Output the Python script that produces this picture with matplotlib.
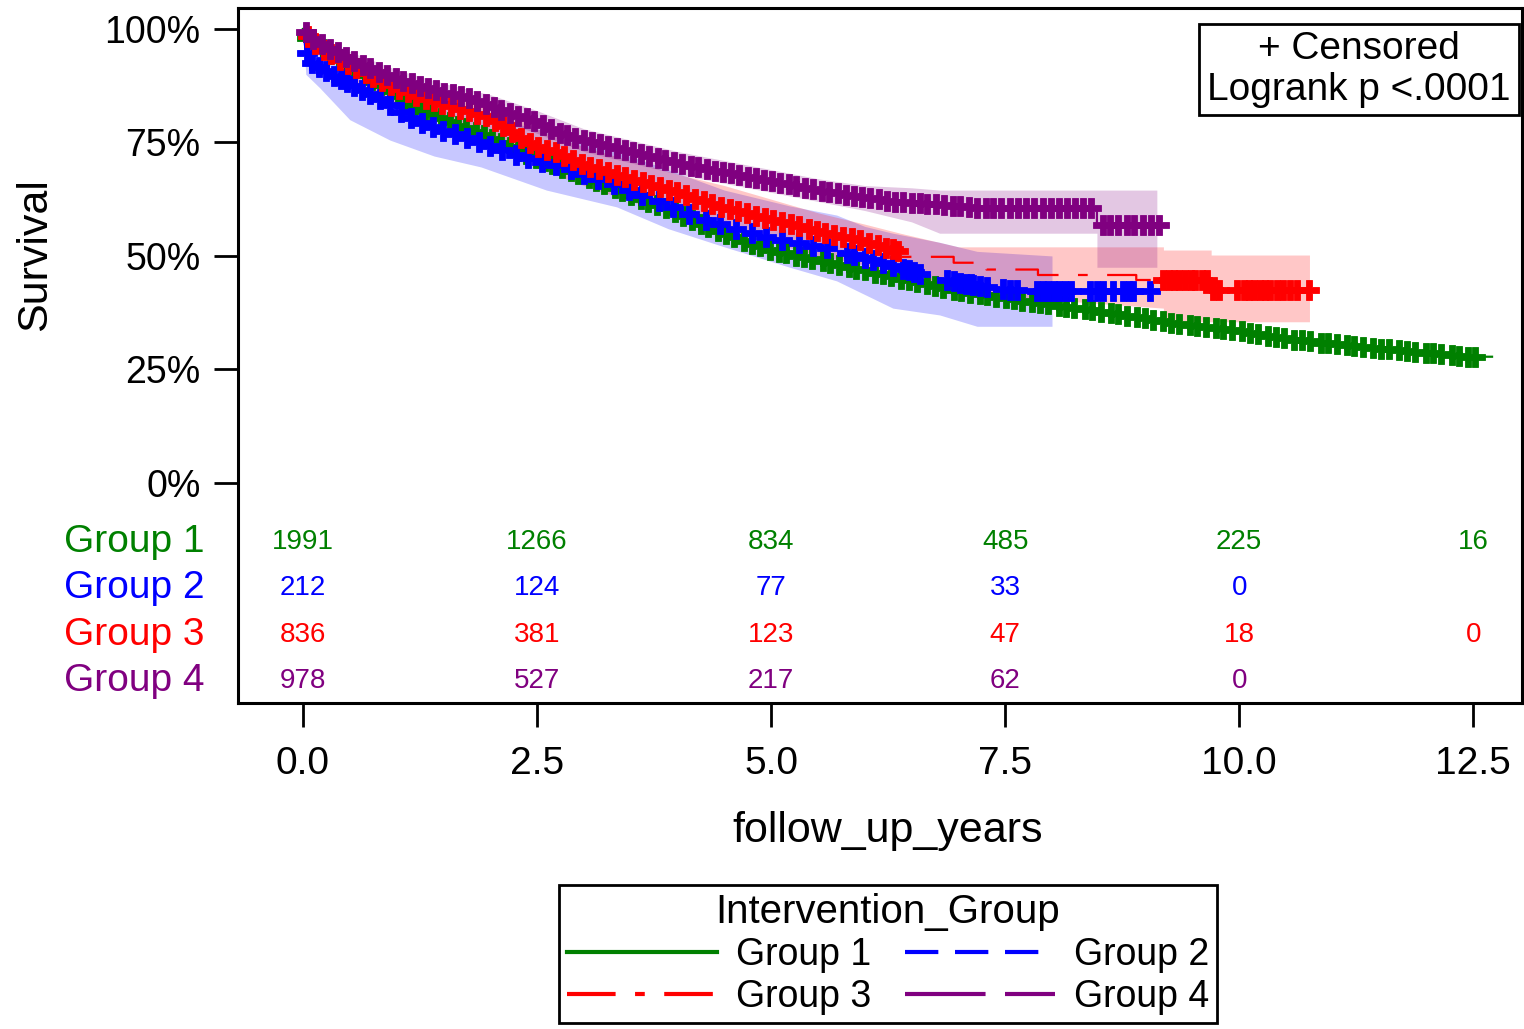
import numpy as np
import matplotlib
matplotlib.use("Agg")
import matplotlib.pyplot as plt
from matplotlib.lines import Line2D

plt.rcParams['font.family'] = ['Liberation Sans', 'DejaVu Sans']
plt.rcParams['lines.scale_dashes'] = False

# ---------------
# data
# ---------------
groups = ['Group 1', 'Group 2', 'Group 3', 'Group 4']
colors = ['#008000', '#0000ff', '#ff0000', '#800080']

# survival curves (years, %); repeated times mark the visible late drops
g1_t = [0, 0.05, 0.25, 0.5, 0.75, 1.0, 1.25, 1.5, 1.75, 2.0, 2.25, 2.5, 2.75, 3.0, 3.25, 3.5,
        3.75, 4.0, 4.25, 4.5, 4.75, 5.0, 5.5, 6.0, 6.5, 7.0, 7.5, 8.0, 8.5, 9.0, 9.5, 10.0,
        10.5, 11.0, 11.5, 12.0, 12.4, 12.7]
g1_s = [100, 97.5, 95, 92, 88.5, 85.5, 82.5, 80, 78, 76, 73.5, 71.5, 69.5, 67.5, 65.5, 63.5,
        61.5, 59.5, 57, 55, 53, 51.3, 49, 46.8, 44.5, 42.3, 40.7, 39.2, 37.8, 36.2, 34.6, 33.5,
        31.8, 30.6, 29.6, 28.7, 27.8, 27.8]

g2_t = [0, 0.03, 0.1, 0.3, 0.64, 1.0, 1.18, 1.5, 1.9, 2.3, 2.8, 3.3, 3.75, 4.2, 4.6, 5.0,
        5.7, 6.2, 6.6, 7.0, 7.4, 7.8, 9.16]
g2_s = [100, 95, 92.5, 90, 86.5, 82.5, 80, 77.5, 75, 72, 69.5, 66, 62.5, 58.5, 56, 54,
        51.3, 48.5, 46, 44.2, 42.8, 42.2, 42.2]

g3_t = [0, 0.1, 0.25, 0.5, 0.75, 1.0, 1.25, 1.5, 1.75, 2.0, 2.25, 2.5, 2.75, 3.0, 3.5, 4.0,
        4.35, 5.0, 5.6, 5.95, 6.2, 6.38, 6.38, 6.95, 6.95, 7.3, 7.3, 7.85, 7.85, 8.9, 8.9,
        9.7, 9.7, 10.83]
g3_s = [100, 97, 95, 92, 89.5, 87, 85, 83.5, 82, 80.5, 77, 74, 72.5, 70, 67, 64,
        61.5, 58, 55, 53.5, 52, 51, 49.8, 49.8, 48.5, 48.5, 47, 47, 45.8, 45.8, 44.7,
        44.7, 42.5, 42.5]

g4_t = [0, 0.1, 0.25, 0.5, 0.75, 1.0, 1.25, 1.5, 1.75, 2.0, 2.5, 2.75, 3.0, 3.5, 4.0, 4.35,
        5.0, 5.5, 5.95, 6.3, 6.7, 7.2, 8.48, 8.48, 9.23]
g4_s = [100, 98, 96, 93.5, 91, 89, 87.5, 86, 85, 83, 79.5, 77, 75.5, 73, 70.5, 69,
        66.5, 64.5, 63, 62, 61.5, 60.6, 60.6, 56.8, 56.8]

# confidence bands (years, lower %, upper %)
g2_band_t = [0, 0.03, 0.18, 0.5, 0.93, 1.4, 1.9, 2.6, 3.35, 3.9, 4.5, 5.2, 5.7, 6.0, 6.3,
             6.8, 7.2, 8.0]
g2_band_lo = [100, 90, 87, 80, 75.5, 72, 69.6, 64.5, 60.8, 56, 52, 47.5, 44.5, 41.5, 38.5,
              37, 34.5, 34.5]
g2_band_hi = [100, 99, 95, 92, 88, 84, 81, 77.5, 73, 69, 64.5, 61, 59, 56.5, 55,
              53, 51, 50]

g3_band_t = [0, 0.5, 1.0, 1.5, 2.0, 2.5, 3.0, 3.5, 4.0, 4.5, 5.0, 5.5, 6.0, 6.38, 7.0,
             7.85, 9.19, 9.19, 9.7, 9.7, 10.75]
g3_band_lo = [100, 89, 83, 79, 75, 69.5, 65.5, 62, 59, 55.5, 53, 50, 48, 44.5, 42.5,
              40.5, 38.5, 35.5, 35.5, 35.5, 35.5]
g3_band_hi = [100, 94.5, 90, 86.5, 83.5, 78, 74, 71, 68, 65.5, 62.5, 59.5, 57, 55, 52,
              52, 52, 51.3, 51.3, 50.2, 50.2]

g4_band_t = [0, 0.5, 1.0, 1.5, 2.0, 2.5, 3.0, 3.5, 4.0, 4.5, 5.0, 5.5, 6.0, 6.5, 6.8,
             8.48, 8.48, 9.12]
g4_band_lo = [100, 91, 86.5, 83.5, 80.5, 77, 73, 70.5, 68, 66, 64, 62, 60, 57.5, 55,
              55, 47.5, 47.5]
g4_band_hi = [100, 95, 91, 88, 85.5, 82, 78, 75.5, 73, 71, 69, 67, 65.5, 65, 64.5,
              64.5, 64.5, 64.5]

# censoring times (years)
g1_cens = np.array("""
0.04 0.12 0.21 0.29 0.38 0.47 0.55 0.66 0.74 0.83 0.93 1.02 1.11 1.19 1.30 1.38 1.47 1.57
1.66 1.74 1.85 1.93 2.02 2.12 2.21 2.30 2.38 2.49 2.58 2.66 2.77 2.86 2.94 3.05 3.13 3.22
3.33 3.41 3.50 3.61 3.69 3.78 3.88 3.97 4.06 4.15 4.25 4.33 4.43 4.52 4.60 4.71 4.80 4.88
4.99 5.08 5.16 5.27 5.35 5.44 5.55 5.63 5.72 5.83 5.91 6.00 6.11 6.19 6.28 6.39 6.47 6.56
6.67 6.75 6.84 6.95 7.03 7.12 7.23 7.31 7.40 7.51 7.59 7.68 7.79 7.87 7.96 8.07 8.15 8.24
8.35 8.43 8.52 8.63 8.71 8.80 8.91 8.99 9.08 9.19 9.27 9.36 9.47 9.55 9.64 9.75 9.83 9.92
10.03 10.11 10.20 10.31 10.39 10.48 10.59 10.67 10.76 10.87 10.95 11.04 11.15 11.23 11.32
11.43 11.51 11.60 11.71 11.79 11.88 11.99 12.07 12.16 12.27 12.35 12.44 12.52
""".split(), dtype=float)
g2_cens = np.array("""
0.04 0.10 0.17 0.25 0.33 0.41 0.47 0.55 0.63 0.72 0.82 0.93 1.05 1.15 1.27 1.39 1.50 1.62
1.75 1.88 2.00 2.13 2.27 2.40 2.55 2.70 2.86 3.00 3.15 3.32 3.48 3.62 3.80 3.95 4.12 4.30
4.45 4.62 4.80 4.95 5.12 5.30 5.45 5.60 5.81 5.88 6.00 6.09 6.20 6.30 6.41 6.47 6.53 6.59
6.88 6.95 7.02 7.08 7.13 7.16 7.23 7.31 7.48 7.55 7.63 7.84 7.90 7.96 8.02 8.08 8.14 8.20
8.41 8.48 8.55 8.65 8.76 8.82 8.87 9.05
""".split(), dtype=float)
g3_cens = np.array("""
0.05 0.13 0.22 0.30 0.40 0.48 0.57 0.67 0.75 0.84 0.94 1.03 1.12 1.21 1.31 1.40 1.49 1.58
1.68 1.77 1.86 1.95 2.05 2.14 2.23 2.33 2.42 2.51 2.61 2.70 2.79 2.88 2.98 3.07 3.16 3.26
3.35 3.44 3.54 3.63 3.72 3.81 3.91 4.00 4.09 4.19 4.28 4.37 4.47 4.56 4.65 4.74 4.84 4.93
5.02 5.12 5.21 5.30 5.40 5.49 5.58 5.67 5.77 5.86 5.95 6.05 6.14 6.23 6.30 6.36
9.19 9.25 9.30 9.36 9.42 9.48 9.53 9.60 9.66 9.72 9.78 9.98 10.05 10.10 10.16 10.22 10.28
10.33 10.40 10.47 10.54 10.62 10.74
""".split(), dtype=float)
g4_cens = np.array("""
0.03 0.11 0.20 0.29 0.37 0.46 0.55 0.64 0.72 0.81 0.90 0.99 1.07 1.16 1.25 1.34 1.42 1.51
1.60 1.69 1.77 1.86 1.95 2.04 2.12 2.21 2.30 2.39 2.47 2.56 2.65 2.74 2.82 2.91 3.00 3.09
3.17 3.26 3.35 3.44 3.52 3.61 3.70 3.79 3.87 3.96 4.05 4.14 4.22 4.31 4.40 4.49 4.57 4.66
4.75 4.84 4.92 5.01 5.10 5.19 5.27 5.36 5.45 5.54 5.62 5.71 5.80 5.89 5.97 6.06 6.15 6.24
6.32 6.41 6.50 6.59 6.67 6.76 6.85 6.94 7.02 7.11 7.20 7.29 7.37 7.46 7.55 7.64 7.72 7.81
7.90 7.99 8.07 8.16 8.25 8.33 8.42 8.55 8.62 8.70 8.80 8.88 8.97 9.06 9.14
""".split(), dtype=float)

# number at risk table
risk_times = [0, 2.5, 5.0, 7.5, 10.0, 12.5]
g1_risk = [1991, 1266, 834, 485, 225, 16]
g2_risk = [212, 124, 77, 33, 0, None]
g3_risk = [836, 381, 123, 47, 18, 0]
g4_risk = [978, 527, 217, 62, 0, None]

# ---------------
# figure
# ---------------
W, H = 1524, 1029
fig = plt.figure(figsize=(W / 100, H / 100), dpi=100)
ax = fig.add_axes([238 / W, 1 - 703 / H, (1522 - 238) / W, (703 - 8) / H])
ax.set_xlim(-0.694, 13.02)
ax.set_ylim(-48.46, 104.6)

curves = [(g1_t, g1_s), (g2_t, g2_s), (g3_t, g3_s), (g4_t, g4_s)]
cens = [g1_cens, g2_cens, g3_cens, g4_cens]
bands = [None,
         (g2_band_t, g2_band_lo, g2_band_hi),
         (g3_band_t, g3_band_lo, g3_band_hi),
         (g4_band_t, g4_band_lo, g4_band_hi)]
# dash patterns in points
styles = ['-', (0, (24, 12)), (0, (35, 14, 7, 14)), (0, (58, 14))]

for band, c in zip(bands, colors):
    if band is None:
        continue
    bt, lo, hi = band
    ax.fill_between(bt, lo, hi, color=c, alpha=0.22, lw=0, zorder=1)


def surv_at(t, s, x):
    # value of the curve at time x (last knot at or before x)
    t = np.asarray(t)
    s = np.asarray(s)
    out = []
    for v in x:
        j = np.searchsorted(t, v, side='right') - 1
        if j + 1 < len(t) and t[j + 1] > t[j]:
            f = (v - t[j]) / (t[j + 1] - t[j])
            out.append(s[j] + f * (s[j + 1] - s[j]))
        else:
            out.append(s[j])
    return np.array(out)


for i in [0, 2, 1, 3]:
    t, s = curves[i]
    ax.plot(t, s, color=colors[i], lw=1.6, ls=styles[i], zorder=3 + i)
    ax.plot(cens[i], surv_at(t, s, cens[i]), ls='none', marker='P', ms=15,
            mfc=colors[i], mec=colors[i], mew=0.6, zorder=3 + i)

# axes styling
ax.set_yticks([0, 25, 50, 75, 100])
ax.set_yticklabels(['0%', '25%', '50%', '75%', '100%'])
ax.set_xticks(risk_times)
ax.set_xticklabels(['%.1f' % v for v in risk_times])
ax.tick_params(axis='y', length=17, width=2, labelsize=27, pad=10)
ax.tick_params(axis='x', length=17, width=2, labelsize=28, pad=14)
for sp in ax.spines.values():
    sp.set_linewidth(2.2)

# at-risk table inside the frame
row_y = [-13.0, -23.1, -33.5, -43.6]
risks = [g1_risk, g2_risk, g3_risk, g4_risk]
for name, c, ry, vals in zip(groups, colors, row_y, risks):
    ax.text(-1.048, ry, name, color=c, fontsize=28, ha='right', va='center', clip_on=False)
    for tx, v in zip(risk_times, vals):
        if v is not None:
            ax.text(tx, ry, str(v), color=c, fontsize=20, ha='center', va='center')

fig.text(35 / W, 1 - 255 / H, 'Survival', rotation=90, fontsize=31, ha='center', va='center')
fig.text(888 / W, 1 - 831 / H, 'follow_up_years', fontsize=31, ha='center', va='center')

fig.text(1359 / W, 1 - 69.5 / H, '+ Censored\nLogrank p <.0001', fontsize=28,
         ha='center', va='center', multialignment='center', linespacing=1.15,
         bbox=dict(boxstyle='square,pad=0.2', fc='white', ec='black', lw=2), zorder=10)

handles = [Line2D([], [], color=c, lw=3, ls=st) for c, st in zip(colors, styles)]
order = [0, 2, 1, 3]
leg = fig.legend([handles[i] for i in order], [groups[i] for i in order], ncol=2,
                 loc='center', bbox_to_anchor=(888 / W, 1 - 954 / H),
                 title='Intervention_Group', fontsize=27, title_fontsize=29,
                 fancybox=False, edgecolor='black', framealpha=1,
                 handlelength=4.0, handletextpad=0.5, columnspacing=0.9,
                 borderpad=0.22, labelspacing=0.15, borderaxespad=0)
leg.get_frame().set_linewidth(2)

fig.savefig('out.png', dpi=100)
